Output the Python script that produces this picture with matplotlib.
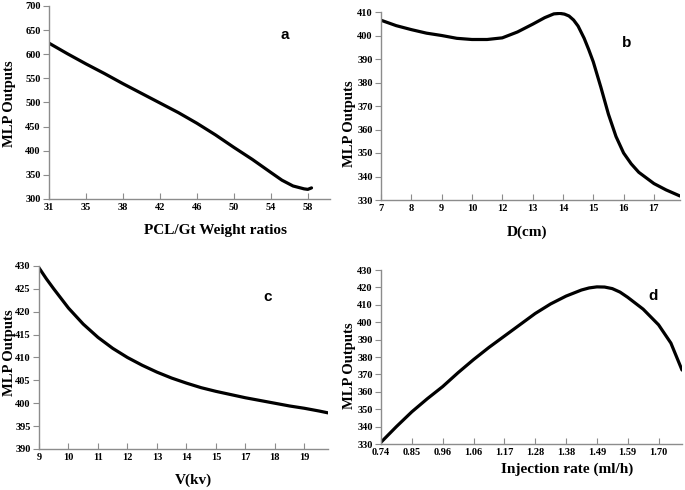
import matplotlib
matplotlib.use("Agg")
import matplotlib.pyplot as plt

# ---- data (x = position along the evenly spaced category axis) ----
a_ticklabels = ["31", "35", "38", "42", "46", "50", "54", "58"]
a_yticks = [300, 350, 400, 450, 500, 550, 600, 650, 700]
a_x = [0, 0.5, 1, 1.5, 2, 2.5, 3, 3.5, 4, 4.5, 5, 5.5, 6, 6.3, 6.6, 6.9, 7.0, 7.1]
a_y = [623, 601, 580, 560, 539, 519, 499, 479, 457, 433, 407, 382, 355, 339, 327, 321, 320, 323]

b_ticklabels = ["7", "8", "9", "10", "12", "13", "14", "15", "16", "17"]
b_yticks = [330, 340, 350, 360, 370, 380, 390, 400, 410]
b_x = [0, 0.5, 1, 1.5, 2, 2.5, 3, 3.5, 4, 4.5, 5, 5.4, 5.7, 5.9, 6.05, 6.2, 6.35, 6.5, 6.7, 6.85, 7.0, 7.25, 7.5, 7.75, 8.0, 8.25, 8.5, 9.0, 9.4, 9.86]
b_y = [406.5, 404.2, 402.5, 401.0, 400.0, 398.8, 398.3, 398.3, 399.0, 401.5, 404.8, 407.6, 409.2, 409.4, 409.1, 408.3, 406.6, 404.0, 398.8, 394.0, 388.8, 378.0, 366.5, 357.0, 350.0, 345.4, 341.8, 337.0, 334.3, 331.7]

c_ticklabels = ["9", "10", "11", "12", "13", "14", "15", "17", "18", "19"]
c_yticks = [390, 395, 400, 405, 410, 415, 420, 425, 430]
c_x = [0, 0.25, 0.5, 1, 1.5, 2, 2.5, 3, 3.5, 4, 4.5, 5, 5.5, 6, 6.5, 7, 7.5, 8, 8.5, 9, 9.5, 9.8]
c_y = [429.6, 427.2, 425.0, 420.8, 417.3, 414.4, 412.0, 410.0, 408.3, 406.8, 405.5, 404.4, 403.4, 402.6, 401.9, 401.2, 400.6, 400.0, 399.4, 398.9, 398.3, 397.9]

d_ticklabels = ["0.74", "0.85", "0.96", "1.06", "1.17", "1.28", "1.38", "1.49", "1.59", "1.70"]
d_yticks = [330, 340, 350, 360, 370, 380, 390, 400, 410, 420, 430]
d_x = [0, 0.5, 1, 1.5, 2, 2.5, 3, 3.5, 4, 4.5, 5, 5.5, 6, 6.5, 6.75, 7, 7.25, 7.5, 7.75, 8, 8.5, 9, 9.4, 9.76]
d_y = [331, 340, 348.5, 356, 363, 371, 378.5, 385.5, 392, 398.5, 405, 410.5, 415, 418.5, 419.7, 420.3, 420.2, 419.3, 417.3, 414.3, 407.5, 398.5, 388, 372.5]

panels = [
    dict(x=a_x, y=a_y, tl=a_ticklabels, yt=a_yticks, xmax=7.6, xlabel="PCL/Gt Weight ratios",
         letter="a", rect=[49, 6, 330, 199], letter_xy=(285, 35), xlabel_xy=(215, 230), ylabel_xy=(10, 104)),
    dict(x=b_x, y=b_y, tl=b_ticklabels, yt=b_yticks, xmax=9.86, xlabel="D(cm)",
         letter="b", rect=[381, 12, 680, 200], letter_xy=(627, 43), xlabel_xy=(527, 232), ylabel_xy=(349, 124)),
    dict(x=c_x, y=c_y, tl=c_ticklabels, yt=c_yticks, xmax=9.8, xlabel="V(kv)",
         letter="c", rect=[39, 266, 328, 449], letter_xy=(268, 297), xlabel_xy=(193, 480), ylabel_xy=(10, 353)),
    dict(x=d_x, y=d_y, tl=d_ticklabels, yt=d_yticks, xmax=9.76, xlabel="Injection rate (ml/h)",
         letter="d", rect=[381, 270, 682, 444], letter_xy=(653, 296), xlabel_xy=(567, 469), ylabel_xy=(349, 366)),
]

W, H = 685, 490
fig = plt.figure(figsize=(W / 100, H / 100), dpi=100)
serif = "Liberation Serif"
gray = "#8c8c8c"

for p in panels:
    l, t, r, b = p["rect"]
    ax = fig.add_axes([l / W, 1 - b / H, (r - l) / W, (b - t) / H])
    ax.plot(p["x"], p["y"], color="black", lw=2.3, solid_capstyle="round", solid_joinstyle="round")
    ax.set_xlim(0, p["xmax"])
    ax.set_ylim(p["yt"][0], p["yt"][-1])
    ax.set_xticks(range(len(p["tl"])))
    ax.set_xticklabels(p["tl"])
    ax.set_yticks(p["yt"])
    for s in ["top", "right"]:
        ax.spines[s].set_visible(False)
    for s in ["left", "bottom"]:
        ax.spines[s].set_color(gray)
        ax.spines[s].set_linewidth(1.0)
    ax.tick_params(axis="x", direction="in", length=4, color=gray, pad=3)
    ax.tick_params(axis="y", direction="out", length=4, color=gray, pad=2)
    for lab in ax.get_xticklabels() + ax.get_yticklabels():
        lab.set_fontfamily(serif)
        lab.set_fontweight("bold")
        lab.set_fontsize(7.5)
    yx, yy = p["ylabel_xy"]
    fig.text(yx / W, 1 - yy / H, "MLP Outputs", rotation=90, ha="center", va="center",
             fontfamily=serif, fontweight="bold", fontsize=10.5)
    xx, xy = p["xlabel_xy"]
    fig.text(xx / W, 1 - xy / H, p["xlabel"], ha="center", va="center",
             fontfamily=serif, fontweight="bold", fontsize=11)
    lx, ly = p["letter_xy"]
    fig.text(lx / W, 1 - ly / H, p["letter"], ha="center", va="center",
             fontfamily="Liberation Sans", fontweight="bold", fontsize=11)

fig.savefig("out.png", dpi=100)
